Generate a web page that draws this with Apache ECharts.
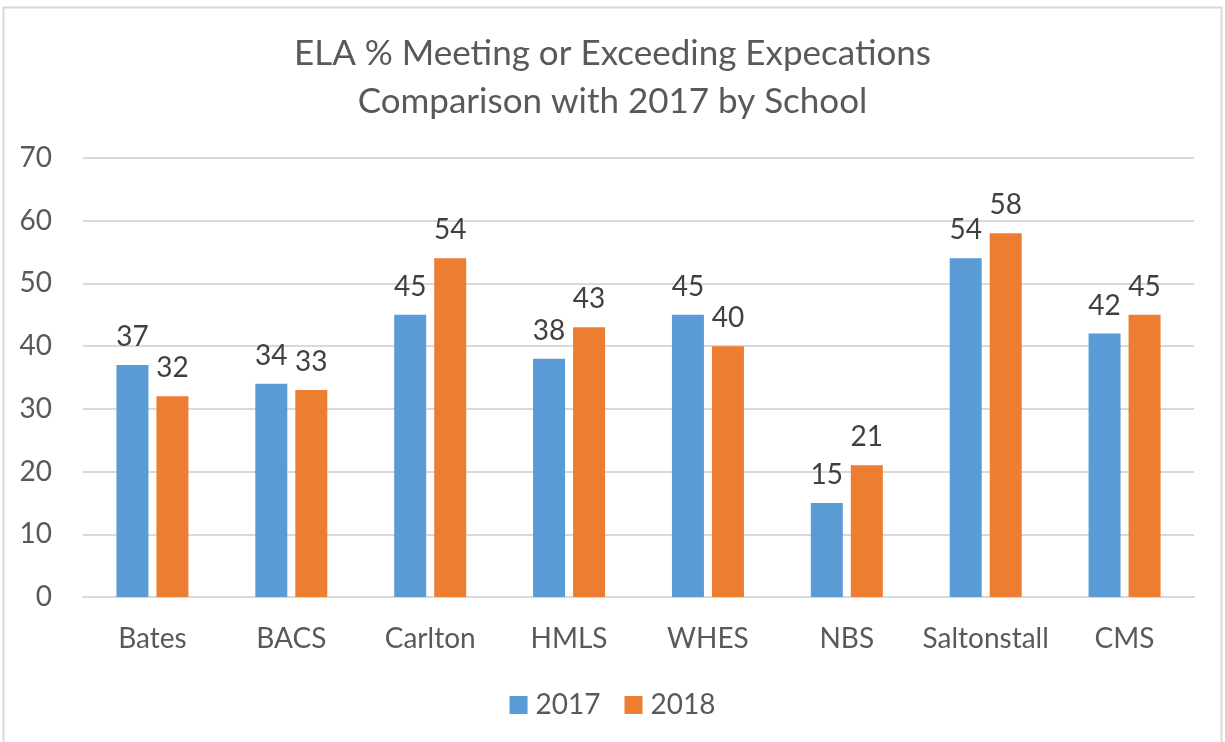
<!DOCTYPE html>
<html>
<head>
<meta charset="utf-8">
<script src="https://cdn.jsdelivr.net/npm/echarts@6/dist/echarts.min.js"></script>
<style>
  html, body { margin: 0; padding: 0; background: #fff; }
  #main { width: 1225px; height: 742px; }
</style>
</head>
<body>
<div id="main"></div>
<script>
// 数据
const schools = ['Bates', 'BACS', 'Carlton', 'HMLS', 'WHES', 'NBS', 'Saltonstall', 'CMS'];
const values2017 = [37, 34, 45, 38, 45, 15, 54, 42];
const values2018 = [32, 33, 54, 43, 40, 21, 58, 45];
const yTicks = [0, 10, 20, 30, 40, 50, 60, 70];

const FONT = 'Lato';
const TEXT = '#595959';

let myChart = echarts.init(document.getElementById('main'));
let option = {
  animation: false,
  textStyle: { fontFamily: FONT },
  title: {
    text: 'ELA % Meeting or Exceeding Expecations\nComparison with 2017 by School',
    left: 'center',
    top: 25,
    textStyle: { fontFamily: FONT, fontSize: 35, fontWeight: 'normal', color: TEXT, lineHeight: 48 }
  },
  legend: {
    data: ['2017', '2018'],
    bottom: 18,
    left: 'center',
    itemWidth: 18,
    itemHeight: 18,
    itemGap: 24,
    icon: 'rect',
    textStyle: { fontFamily: FONT, fontSize: 28, color: TEXT, padding: [0, 0, 0, 3] }
  },
  grid: {
    left: 83,
    right: 31,
    top: 158,
    bottom: 145
  },
  xAxis: {
    type: 'category',
    data: schools,
    axisLine: { lineStyle: { color: '#d9d9d9', width: 2 } },
    axisTick: { show: false },
    axisLabel: { interval: 0, fontFamily: FONT, fontSize: 28, color: TEXT, margin: 28 }
  },
  yAxis: {
    type: 'value',
    min: yTicks[0],
    max: yTicks[yTicks.length - 1],
    interval: 10,
    axisLine: { show: false },
    axisTick: { show: false },
    splitLine: { lineStyle: { color: '#d9d9d9', width: 2 } },
    axisLabel: { fontFamily: FONT, fontSize: 28, color: TEXT, margin: 31 }
  },
  series: [
    {
      name: '2017',
      type: 'bar',
      data: values2017,
      barWidth: 32,
      barGap: '25%',
      itemStyle: { color: '#5b9bd5' },
      label: { show: true, position: 'top', distance: 14, fontFamily: FONT, fontSize: 28, color: '#404040' }
    },
    {
      name: '2018',
      type: 'bar',
      data: values2018,
      barWidth: 32,
      itemStyle: { color: '#ed7d31' },
      label: { show: true, position: 'top', distance: 14, fontFamily: FONT, fontSize: 28, color: '#404040' }
    }
  ],
  graphic: [
    {
      type: 'rect',
      shape: { x: 3.5, y: 7.5, width: 1218, height: 760 },
      style: { fill: 'none', stroke: '#d9d9d9', lineWidth: 2 },
      silent: true
    }
  ]
};
myChart.setOption(option);
</script>
</body>
</html>
